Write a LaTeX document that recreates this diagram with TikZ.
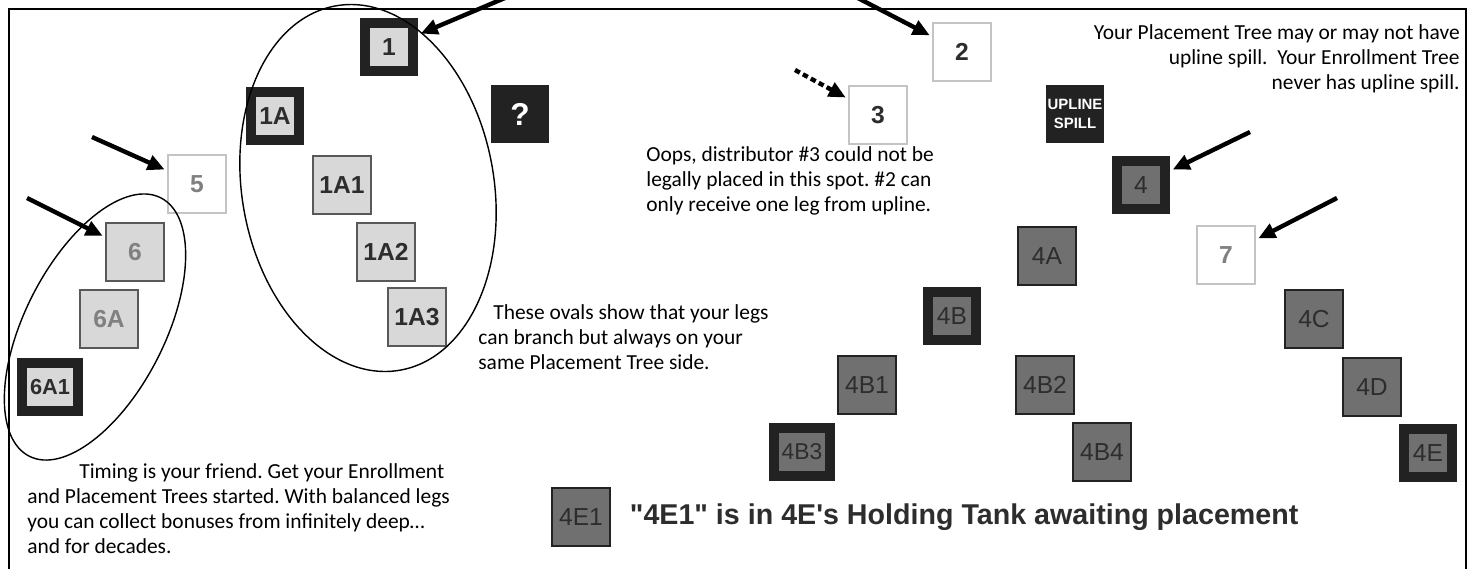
\documentclass[tikz,border=0pt]{standalone}
\usepackage{fontspec}
\setmainfont{Liberation Sans}
\newfontfamily\notefont{Carlito}
\newfontfamily\tankfont{Liberation Sans}[Ligatures=TeXOff]
\usetikzlibrary{arrows.meta,positioning}
\definecolor{tileEdge}{RGB}{34,34,34}
\definecolor{tileLight}{RGB}{216,216,216}
\definecolor{tileMid}{RGB}{112,112,112}
\definecolor{inkDark}{RGB}{45,45,45}
\definecolor{inkFaint}{RGB}{128,128,128}
\definecolor{edgeFaint}{RGB}{196,196,196}
\tikzset{
  tile/.style={minimum size=1.16cm, inner sep=0pt, font=\fontsize{14}{14}\selectfont, text=inkDark},
  rimlight/.style={tile, minimum size=0.96cm, draw=tileEdge, line width=0.2cm, fill=tileLight,
    font=\bfseries\fontsize{14}{14}\selectfont},
  rimmid/.style={tile, minimum size=0.96cm, draw=tileEdge, line width=0.2cm, fill=tileMid},
  rimlightwide/.style={rimlight, minimum width=1.12cm, font=\bfseries\fontsize{12.4}{13}\selectfont},
  rimmidwide/.style={rimmid, minimum width=1.12cm, font=\fontsize{13}{13}\selectfont},
  pale/.style={tile, draw=black!65, line width=0.7pt, fill=tileLight, font=\bfseries\fontsize{14}{14}\selectfont},
  palefaint/.style={pale, text=inkFaint},
  midtile/.style={tile, draw=tileEdge, line width=0.7pt, fill=tileMid},
  blank/.style={tile, draw=edgeFaint, line width=0.7pt, fill=white, font=\bfseries\fontsize{14}{14}\selectfont},
  blankfaint/.style={blank, text=inkFaint},
  blacktile/.style={tile, fill=tileEdge, text=white, font=\bfseries\fontsize{18}{18}\selectfont},
  pointer/.style={-{Triangle[length=0.34cm,width=0.3cm]}, line width=2.5pt, shorten >=0.06cm},
  dotpointer/.style={pointer, dash pattern=on 0.11cm off 0.07cm},
  oval/.style={line width=0.8pt},
  note/.style={font=\notefont\frenchspacing\fontsize{12.2}{14.2}\selectfont, inner sep=0pt},
}

\begin{document}
\begin{tikzpicture}[x=0.02cm, y=-0.02cm]
  \useasboundingbox (0,0) rectangle (1473,569);
  % frame, open at the bottom
  \draw[line width=0.9pt] (9,569) -- (9,9) -- (1466,9) -- (1466,569);
  % tiles
  \foreach \x/\y/\s/\lab in {389/47/rimlight/1, 275/116/rimlight/1A,
      342/185/pale/1A1, 386/252/pale/1A2, 417/317/pale/1A3,
      197/184/blankfaint/5, 135/252/palefaint/6, 109/319/palefaint/6A,
      50/387/rimlightwide/6A1, 962/52/blank/2, 878/115/blank/3,
      1141/185/rimmid/4, 1047/256/midtile/4A, 1226/255/blankfaint/7,
      952/316/rimmid/4B, 1314/319/midtile/4C, 867/385/midtile/4B1,
      1045/385/midtile/4B2, 1372/387/midtile/4D, 802/452/rimmidwide/4B3,
      1102/452/midtile/4B4, 1428/453/rimmid/4E, 581/517/midtile/4E1}
    \node[\s] (t\lab) at (\x,\y) {\lab};
  \node[blacktile] (tq) at (520,114) {?};
  \node[blacktile, font=\bfseries\fontsize{8.5}{11}\selectfont, align=center] (tspill)
    at (1075,114) {UPLINE\\SPILL};
  % ovals round the two legs
  \draw[oval, rotate around={10:(368,188)}] (368,188) ellipse [x radius=2.52cm, y radius=3.7cm];
  \draw[oval, rotate around={-27:(95,327)}] (95,327) ellipse [x radius=1.4cm, y radius=2.9cm];
  % pointers
  \coordinate (p1) at (512,-5);
  \coordinate (p2) at (852,-5);
  \coordinate (p3) at (795,70);
  \coordinate (p5) at (92,137);
  \coordinate (p6) at (27,198);
  \coordinate (p4) at (1250,132);
  \coordinate (p7) at (1337,198);
  \draw[pointer] (p1) -- (t1);
  \draw[pointer] (p2) -- (t2);
  \draw[dotpointer] (p3) -- (t3);
  \draw[pointer] (p5) -- (t5);
  \draw[pointer] (p6) -- (t6);
  \draw[pointer] (p4) -- (t4);
  \draw[pointer] (p7) -- (t7);
  % notes
  \node[note, anchor=north west, align=left] (oops) at (646,146)
    {Oops, distributor \#3 could not be\\legally placed in this spot. \#2 can\\only receive one leg from upline.};
  \node[note, anchor=north west, align=left] (legs) at (478,304)
    {\hspace*{0.3cm}These ovals show that your legs\\can branch but always on your\\same Placement Tree side.};
  \node[note, anchor=north west, align=left] (timing) at (27,463)
    {\hspace*{1.04cm}Timing is your friend. Get your Enrollment\\and Placement Trees started. With balanced legs\\you can collect bonuses from infinitely deep…\\and for decades.};
  \node[note, anchor=north east, align=right] (spill) at (1460,24)
    {Your Placement Tree may or may not have\\upline spill.\ \ Your Enrollment Tree\\never has upline spill.};
  \node[font=\tankfont\bfseries\fontsize{16.3}{18}\selectfont, text=inkDark, inner sep=0pt, anchor=west,
    right=0.38cm of t4E1] (tank) {"4E1" is in 4E's Holding Tank awaiting placement};
\end{tikzpicture}
\end{document}
